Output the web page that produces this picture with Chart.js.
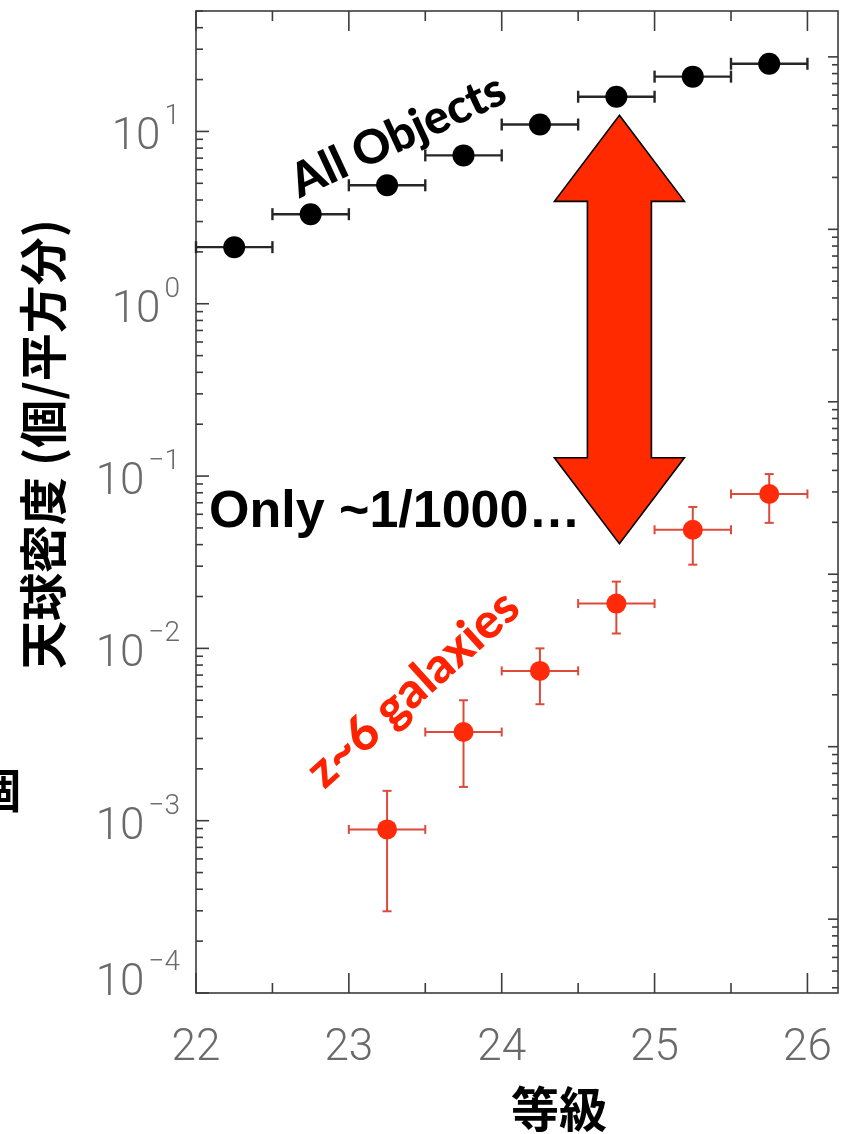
<!DOCTYPE html>
<html>
<head>
<meta charset="utf-8">
<script src="https://cdn.jsdelivr.net/npm/chart.js@4/dist/chart.umd.min.js"></script>
<style>
  html, body { margin: 0; padding: 0; background: #ffffff; }
  canvas { display: block; }
</style>
</head>
<body>
<canvas id="c" width="851" height="1134"></canvas>
<script>
// Magnitude bins (bin centres) and surface densities, per square arcminute
const magnitudes = [22.25, 22.75, 23.25, 23.75, 24.25, 24.75, 25.25, 25.75];
const allObjects = [2.13, 3.31, 4.87, 7.26, 10.97, 15.9, 20.8, 24.7];

const z6Magnitudes = [23.25, 23.75, 24.25, 24.75, 25.25, 25.75];
const z6Density    = [8.9e-4, 3.27e-3, 7.4e-3, 0.0182, 0.0488, 0.0787];
const z6Upper      = [1.49e-3, 5.0e-3, 1.0e-2, 0.0244, 0.0662, 0.1027];
const z6Lower      = [2.98e-4, 1.57e-3, 4.74e-3, 0.0122, 0.0306, 0.0535];

const binHalfWidth = 0.25;

// Axis ranges and tick labels
const xRange = [22, 26.2];
const xTickValues = [22, 23, 24, 25, 26];
const xTickLabels = ['22', '23', '24', '25', '26'];
const yRange = [1e-4, 50];
const yTickExponents = [1, 0, -1, -2, -3, -4];
// secondary (right) density axis in alternate units
const y2Range = [3.73e-4, 184.5];

const xTitle = '等級';
const yTitle = '天球密度 (個/平方分)';
const labelAll = 'All Objects';
const labelZ6 = 'z~6 galaxies';
const labelRatio = 'Only ~1/1000…';

const AXIS_COLOR = '#3c3c3c';
const TICK_TEXT = '#6a6a6a';
const TICK_FONT = '300 44px Roboto, "Liberation Sans", Arial, sans-serif';
const EXP_FONT = '300 28px Roboto, "Liberation Sans", Arial, sans-serif';
const RED = '#ff2a00';

function seg(ctx, x0, y0, x1, y1) {
  ctx.beginPath(); ctx.moveTo(x0, y0); ctx.lineTo(x1, y1); ctx.stroke();
}

function logTicks(min, max) {
  const out = [];
  const e0 = Math.floor(Math.log10(min)), e1 = Math.ceil(Math.log10(max));
  for (let e = e0; e <= e1; e++) {
    for (let m = 1; m <= 9; m++) {
      const v = m * Math.pow(10, e);
      if (v >= min * 0.9999 && v <= max * 1.0001) out.push({ v, major: m === 1 });
    }
  }
  return out;
}

const axesAndErrors = {
  id: 'axesAndErrors',
  beforeDatasetsDraw(chart) {
    const { ctx, chartArea: a, scales: { x, y, y2 } } = chart;
    ctx.save();
    // frame
    ctx.strokeStyle = AXIS_COLOR;
    ctx.lineWidth = 1.6;
    ctx.strokeRect(a.left, a.top, a.right - a.left, a.bottom - a.top);

    // x ticks, bottom and top, pointing inward
    for (let v = xRange[0]; v <= xRange[1] + 1e-9; v += 0.5) {
      const px = x.getPixelForValue(v);
      const len = Math.abs(v - Math.round(v)) < 1e-6 ? 20 : 10;
      seg(ctx, px, a.bottom, px, a.bottom - len);
      seg(ctx, px, a.top, px, a.top + len);
    }
    // left log ticks
    logTicks(yRange[0], yRange[1]).forEach(t => {
      const py = y.getPixelForValue(t.v);
      seg(ctx, a.left, py, a.left + (t.major ? 13 : 7), py);
    });
    // right log ticks
    logTicks(y2Range[0], y2Range[1]).forEach(t => {
      const py = y2.getPixelForValue(t.v);
      seg(ctx, a.right, py, a.right - (t.major ? 10 : 6), py);
    });

    // tick labels
    ctx.fillStyle = TICK_TEXT;
    ctx.font = TICK_FONT;
    ctx.textAlign = 'center';
    ctx.textBaseline = 'alphabetic';
    xTickValues.forEach((v, i) => {
      ctx.fillText(xTickLabels[i], x.getPixelForValue(v), 1060);
    });
    yTickExponents.forEach(e => {
      const py = y.getPixelForValue(Math.pow(10, e));
      const base = Math.min(py + 18, a.bottom + 2);
      const expText = e < 0 ? '\u2212' + Math.abs(e) : String(e);
      ctx.font = EXP_FONT;
      const ew = ctx.measureText(expText).width;
      ctx.textAlign = 'left';
      const right = 180;
      ctx.fillText(expText, right - ew, base - 25);
      ctx.font = TICK_FONT;
      ctx.textAlign = 'right';
      ctx.fillText('10', right - ew - 4, base);
    });

    // horizontal bin bars for all objects
    ctx.strokeStyle = '#262626';
    ctx.lineWidth = 2.4;
    magnitudes.forEach((m, i) => {
      const py = y.getPixelForValue(allObjects[i]);
      const x0 = x.getPixelForValue(m - binHalfWidth);
      const x1 = x.getPixelForValue(m + binHalfWidth);
      seg(ctx, x0, py, x1, py);
      seg(ctx, x0, py - 6, x0, py + 6);
      seg(ctx, x1, py - 6, x1, py + 6);
    });
    // bin bars and density errors for z~6 galaxies
    ctx.strokeStyle = '#dd4a3c';
    ctx.lineWidth = 2;
    z6Magnitudes.forEach((m, i) => {
      const py = y.getPixelForValue(z6Density[i]);
      const px = x.getPixelForValue(m);
      const x0 = x.getPixelForValue(m - binHalfWidth);
      const x1 = x.getPixelForValue(m + binHalfWidth);
      const yt = y.getPixelForValue(z6Upper[i]);
      const yb = y.getPixelForValue(z6Lower[i]);
      seg(ctx, x0, py, x1, py);
      seg(ctx, x0, py - 4.5, x0, py + 4.5);
      seg(ctx, x1, py - 4.5, x1, py + 4.5);
      seg(ctx, px, yt, px, yb);
      seg(ctx, px - 4.5, yt, px + 4.5, yt);
      seg(ctx, px - 4.5, yb, px + 4.5, yb);
    });
    ctx.restore();
  },
  afterDatasetsDraw(chart) {
    const { ctx, scales: { x, y } } = chart;
    ctx.save();

    // double-headed arrow between the two populations
    const ax = x.getPixelForValue(24.77);
    const top = y.getPixelForValue(12.4);
    const bot = y.getPixelForValue(0.0405);
    const headLen = 86, headHalf = 65, shaftHalf = 32;
    ctx.beginPath();
    ctx.moveTo(ax, top);
    ctx.lineTo(ax + headHalf, top + headLen);
    ctx.lineTo(ax + shaftHalf, top + headLen);
    ctx.lineTo(ax + shaftHalf, bot - headLen);
    ctx.lineTo(ax + headHalf, bot - headLen);
    ctx.lineTo(ax, bot);
    ctx.lineTo(ax - headHalf, bot - headLen);
    ctx.lineTo(ax - shaftHalf, bot - headLen);
    ctx.lineTo(ax - shaftHalf, top + headLen);
    ctx.lineTo(ax - headHalf, top + headLen);
    ctx.closePath();
    ctx.fillStyle = RED;
    ctx.fill();
    ctx.strokeStyle = '#000';
    ctx.lineWidth = 1.6;
    ctx.lineJoin = 'miter';
    ctx.stroke();

    // annotations
    ctx.fillStyle = '#000';
    ctx.font = 'bold 52px "Liberation Sans", Arial, sans-serif';
    ctx.textAlign = 'left';
    ctx.textBaseline = 'alphabetic';
    ctx.fillText(labelRatio, 209, 527);

    ctx.font = '900 47px Lato, "Open Sans", sans-serif';
    ctx.textAlign = 'center';
    ctx.textBaseline = 'middle';
    ctx.save();
    ctx.translate(398, 136);
    ctx.rotate(-25 * Math.PI / 180);
    ctx.fillText(labelAll, 0, 0);
    ctx.restore();

    ctx.fillStyle = '#ff2200';
    ctx.font = '900 49px Lato, "Open Sans", sans-serif';
    ctx.save();
    ctx.translate(413, 689);
    ctx.rotate(-42 * Math.PI / 180);
    ctx.fillText(labelZ6, 0, 0);
    ctx.restore();

    // axis titles
    ctx.fillStyle = '#000';
    ctx.font = 'bold 48px "Noto Sans CJK JP", sans-serif';
    ctx.textAlign = 'center';
    ctx.textBaseline = 'middle';
    ctx.fillText(xTitle, 559, 1109);
    ctx.save();
    ctx.translate(43, 444);
    ctx.rotate(-Math.PI / 2);
    ctx.fillText(yTitle, 0, 0);
    ctx.restore();
    // clipped glyph at the left margin
    ctx.textAlign = 'right';
    ctx.fillText('個', 21, 790);

    ctx.restore();
  }
};

new Chart(document.getElementById('c'), {
  type: 'scatter',
  data: {
    datasets: [
      {
        label: labelAll,
        data: magnitudes.map((m, i) => ({ x: m, y: allObjects[i] })),
        backgroundColor: '#000000',
        borderColor: '#000000',
        borderWidth: 0,
        pointRadius: 11,
        yAxisID: 'y'
      },
      {
        label: labelZ6,
        data: z6Magnitudes.map((m, i) => ({ x: m, y: z6Density[i] })),
        backgroundColor: '#ff2a0a',
        borderColor: '#ff2a0a',
        borderWidth: 0,
        pointRadius: 10,
        yAxisID: 'y'
      }
    ]
  },
  options: {
    responsive: false,
    animation: false,
    events: [],
    layout: { padding: { left: 196, right: 13, top: 7, bottom: 141 } },
    plugins: { legend: { display: false }, tooltip: { enabled: false }, title: { display: false } },
    scales: {
      x: { type: 'linear', min: xRange[0], max: xRange[1], display: false },
      y: { type: 'logarithmic', min: yRange[0], max: yRange[1], display: false },
      y2: { type: 'logarithmic', position: 'right', min: y2Range[0], max: y2Range[1], display: false }
    }
  },
  plugins: [axesAndErrors]
});
</script>
</body>
</html>
